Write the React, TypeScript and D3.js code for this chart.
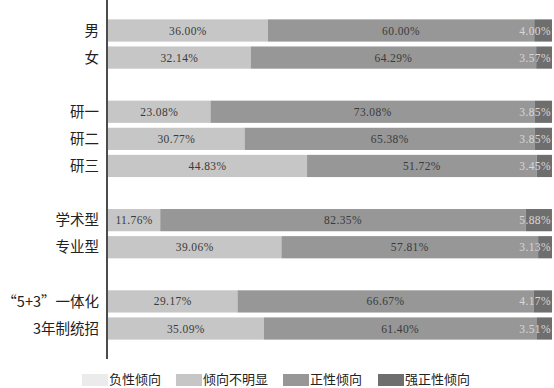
import * as d3 from 'd3';
import {useEffect, useRef} from "react";
import * as React from "react";

// rows, with "" entries as spacer rows between the groups
const categories = ["男", "女", "", "研一", "研二", "研三", "", "学术型", "专业型", "", "“5+3”一体化", "3年制统招"];
const seriesNames = ["负性倾向", "倾向不明显", "正性倾向", "强正性倾向"];
const negative = [0, 0, 0, 0, 0, 0, 0, 0, 0];
const unclear = [36.00, 32.14, 23.08, 30.77, 44.83, 11.76, 39.06, 29.17, 35.09];
const positive = [60.00, 64.29, 73.08, 65.38, 51.72, 82.35, 57.81, 66.67, 61.40];
const strongPositive = [4.00, 3.57, 3.85, 3.85, 3.45, 5.88, 3.13, 4.17, 3.51];

const colors = ["#ebebeb", "#c6c6c6", "#979797", "#6e6e6e"];

const App: React.FC = () => {
    const svgRef = useRef<SVGSVGElement | null>(null);

    useEffect(() => {
        const width = 554, height = 388;
        const svg = d3.select(svgRef.current)
            .attr("width", width)
            .attr("height", height)
            .html("");

        const rowKeys = categories.map((c, i) => c === "" ? `gap${i}` : c);
        const realRows = categories.filter(c => c !== "");
        const rows = realRows.map((c, i) => ({
            key: c,
            values: [negative[i], unclear[i], positive[i], strongPositive[i]]
        }));

        const x = d3.scaleLinear().domain([0, 100]).range([108, 552]);
        const y = d3.scaleBand().domain(rowKeys).range([14.5, 344.5]).padding(0.18);

        const stack = rows.map(r => {
            let acc = 0;
            return r.values.map((v, j) => {
                const s = {key: r.key, j, v, x0: acc, x1: acc + v};
                acc += v;
                return s;
            });
        }).flat();

        svg.append("g").selectAll("rect")
            .data(stack.filter(d => d.v > 0))
            .enter()
            .append("rect")
            .attr("x", d => x(d.x0))
            .attr("y", d => y(d.key)!)
            .attr("width", d => x(d.x1) - x(d.x0))
            .attr("height", y.bandwidth())
            .attr("fill", d => colors[d.j]);

        // value labels
        svg.append("g").selectAll("text")
            .data(stack.filter(d => d.v > 0))
            .enter()
            .append("text")
            .attr("x", d => d.j === 3 ? x(100) - 1 : (x(d.x0) + x(d.x1)) / 2)
            .attr("y", d => y(d.key)! + y.bandwidth() / 2)
            .attr("dy", "0.35em")
            .attr("text-anchor", d => d.j === 3 ? "end" : "middle")
            .attr("font-family", "'Liberation Serif', serif")
            .attr("font-size", 11.5)
            .attr("letter-spacing", 0.4)
            .attr("fill", d => d.j === 3 ? "#d8d8d8" : "#3a3a3a")
            .text(d => d.v.toFixed(2) + "%");

        // axis line
        svg.append("line")
            .attr("x1", 107).attr("x2", 107)
            .attr("y1", 0).attr("y2", 359)
            .attr("stroke", "#111")
            .attr("stroke-width", 1.5);

        // category labels
        svg.append("g").selectAll("text")
            .data(realRows)
            .enter()
            .append("text")
            .attr("x", 99)
            .attr("y", d => y(d)! + y.bandwidth() / 2)
            .attr("dy", "0.36em")
            .attr("text-anchor", "end")
            .attr("font-family", "'Noto Sans CJK SC', sans-serif")
            .attr("font-size", 14.5)
            .attr("fill", "#222")
            .text(d => d);

        // legend
        const legendX = [82, 176, 283, 378];
        const legend = svg.append("g").selectAll("g")
            .data(seriesNames)
            .enter()
            .append("g")
            .attr("transform", (_, i) => `translate(${legendX[i]}, 374)`);
        legend.append("rect")
            .attr("width", 26).attr("height", 12)
            .attr("fill", (_, i) => colors[i]);
        legend.append("text")
            .attr("x", 27).attr("y", 6)
            .attr("dy", "0.34em")
            .attr("font-family", "'Noto Sans CJK SC', sans-serif")
            .attr("font-size", 13)
            .attr("fill", "#222")
            .text(d => d);
    }, []);

    return <svg ref={svgRef} style={{position: "absolute", left: 0, top: 0, background: "#fff"}}></svg>;
}

export default App;
